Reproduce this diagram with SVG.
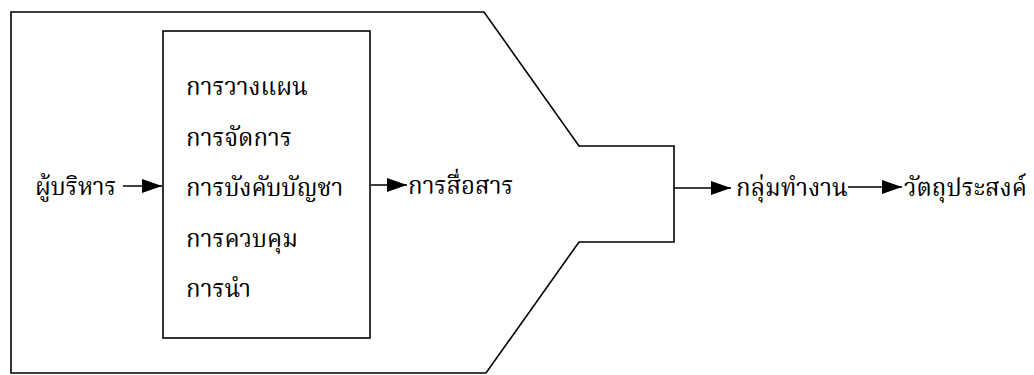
<svg xmlns="http://www.w3.org/2000/svg" width="1034" height="375" viewBox="0 0 1034 375">
<defs>
<style>
.ln{fill:none;stroke:#000;stroke-width:1.6}
.t{font-family:"Noto Serif Thai","Noto Sans Thai","Noto Sans","DejaVu Sans",serif;font-size:24px;fill:#000}
</style>
<marker id="ah" viewBox="0 0 20 14" refX="20" refY="7" markerWidth="20" markerHeight="14" markerUnits="userSpaceOnUse" orient="auto"><path d="M0,0 L20,7 L0,14 z" fill="#000"/></marker>
</defs>
<rect width="1034" height="375" fill="#fff"/>
<g id="outer"><path class="ln" d="M11,12 H484 L579,146 H674 V242 H579 L486,373 H11 Z"/></g>
<g id="box"><rect class="ln" x="163" y="31" width="207" height="307"/>
<text class="t" x="186" y="95">การวางแผน</text>
<text class="t" x="186" y="146">การจัดการ</text>
<text class="t" x="186" y="196">การบังคับบัญชา</text>
<text class="t" x="186" y="247">การควบคุม</text>
<text class="t" x="186" y="297">การนำ</text>
</g>
<g id="n-exec"><text class="t" x="35" y="195">ผู้บริหาร</text></g>
<g id="n-comm"><text class="t" x="408" y="194">การสื่อสาร</text></g>
<g id="n-group"><text class="t" x="736" y="196">กลุ่มทำงาน</text></g>
<g id="n-obj"><text class="t" x="904" y="196">วัตถุประสงค์</text></g>
<g id="connectors">
<line class="ln" x1="123" y1="186" x2="162" y2="186" marker-end="url(#ah)"/>
<line class="ln" x1="371" y1="185" x2="407" y2="185" marker-end="url(#ah)"/>
<line class="ln" x1="674" y1="188" x2="731" y2="188" marker-end="url(#ah)"/>
<line class="ln" x1="848" y1="187" x2="902" y2="187" marker-end="url(#ah)"/>
</g>
</svg>
